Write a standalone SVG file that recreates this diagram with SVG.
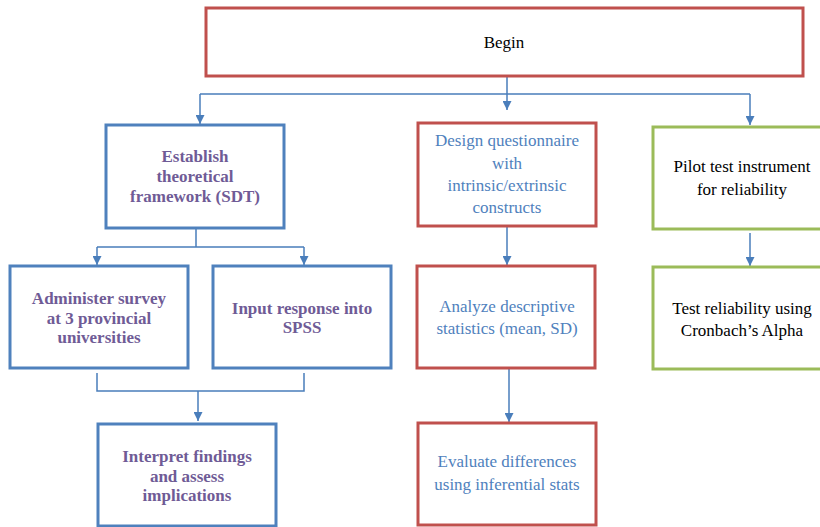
<svg xmlns="http://www.w3.org/2000/svg" width="820" height="527" viewBox="0 0 820 527">
<defs>
<marker id="arr" viewBox="0 0 10 10" refX="10" refY="5" markerWidth="10" markerHeight="9" markerUnits="userSpaceOnUse" orient="auto">
<path d="M0,0 L10,5 L0,10 Z" fill="#4A7EBB"/>
</marker>
</defs>
<style>
.red{fill:#fff;stroke:#C0504D;stroke-width:3}
.blue{fill:#fff;stroke:#4F81BD;stroke-width:3}
.green{fill:#fff;stroke:#9BBB59;stroke-width:3}
.c{fill:none;stroke:#4A7EBB;stroke-width:1.5}
.a{marker-end:url(#arr)}
text{font-family:'Liberation Serif','Times New Roman',serif;font-size:17px;text-anchor:middle}
.tp{fill:#6F5B96;font-weight:bold}
.tb{fill:#4F81BD}
.tk{fill:#000}
</style>
<rect width="820" height="527" fill="#fff"/>
<g id="connectors">
<path class="c" d="M507,76 V94 M200,94 H750"/>
<path class="c a" d="M200,94 V124"/>
<path class="c a" d="M507,94 V110"/>
<path class="c a" d="M750,94 V125"/>
<path class="c" d="M196,228 V247 M97,247 H304"/>
<path class="c a" d="M97,247 V265"/>
<path class="c a" d="M304,247 V265"/>
<path class="c a" d="M507,226 V265"/>
<path class="c a" d="M750,233 V266"/>
<path class="c" d="M97,373 V391 H304 V373"/>
<path class="c a" d="M198,391 V421"/>
<path class="c a" d="M509,368 V422"/>
</g>
<g id="begin">
<rect class="red" x="206" y="8" width="597" height="68"/>
<text class="tk" x="504" y="48">Begin</text>
</g>
<g id="establish">
<rect class="blue" x="106" y="125" width="178" height="103"/>
<text class="tp" x="195" y="162">Establish</text>
<text class="tp" x="195" y="182">theoretical</text>
<text class="tp" x="195" y="202">framework (SDT)</text>
</g>
<g id="design">
<rect class="red" x="418" y="123" width="178" height="103"/>
<text class="tb" x="507" y="146">Design questionnaire</text>
<text class="tb" x="507" y="169">with</text>
<text class="tb" x="507" y="191">intrinsic/extrinsic</text>
<text class="tb" x="507" y="213">constructs</text>
</g>
<g id="pilot">
<rect class="green" x="653" y="127" width="178" height="102"/>
<text class="tk" x="742" y="172">Pilot test instrument</text>
<text class="tk" x="742" y="195">for reliability</text>
</g>
<g id="administer">
<rect class="blue" x="10" y="266" width="178" height="102"/>
<text class="tp" x="99" y="304">Administer survey</text>
<text class="tp" x="99" y="324">at 3 provincial</text>
<text class="tp" x="99" y="343">universities</text>
</g>
<g id="input">
<rect class="blue" x="213" y="266" width="178" height="102"/>
<text class="tp" x="302" y="314">Input response into</text>
<text class="tp" x="302" y="333">SPSS</text>
</g>
<g id="analyze">
<rect class="red" x="417" y="266" width="178" height="102"/>
<text class="tb" x="507" y="312">Analyze descriptive</text>
<text class="tb" x="507" y="334">statistics (mean, SD)</text>
</g>
<g id="test">
<rect class="green" x="653" y="267" width="178" height="102"/>
<text class="tk" x="742" y="314">Test reliability using</text>
<text class="tk" x="742" y="336">Cronbach’s Alpha</text>
</g>
<g id="interpret">
<rect class="blue" x="98" y="424" width="178" height="102"/>
<text class="tp" x="187" y="462">Interpret findings</text>
<text class="tp" x="187" y="482">and assess</text>
<text class="tp" x="187" y="501">implications</text>
</g>
<g id="evaluate">
<rect class="red" x="418" y="423" width="178" height="102"/>
<text class="tb" x="507" y="467">Evaluate differences</text>
<text class="tb" x="507" y="490">using inferential stats</text>
</g>
</svg>
